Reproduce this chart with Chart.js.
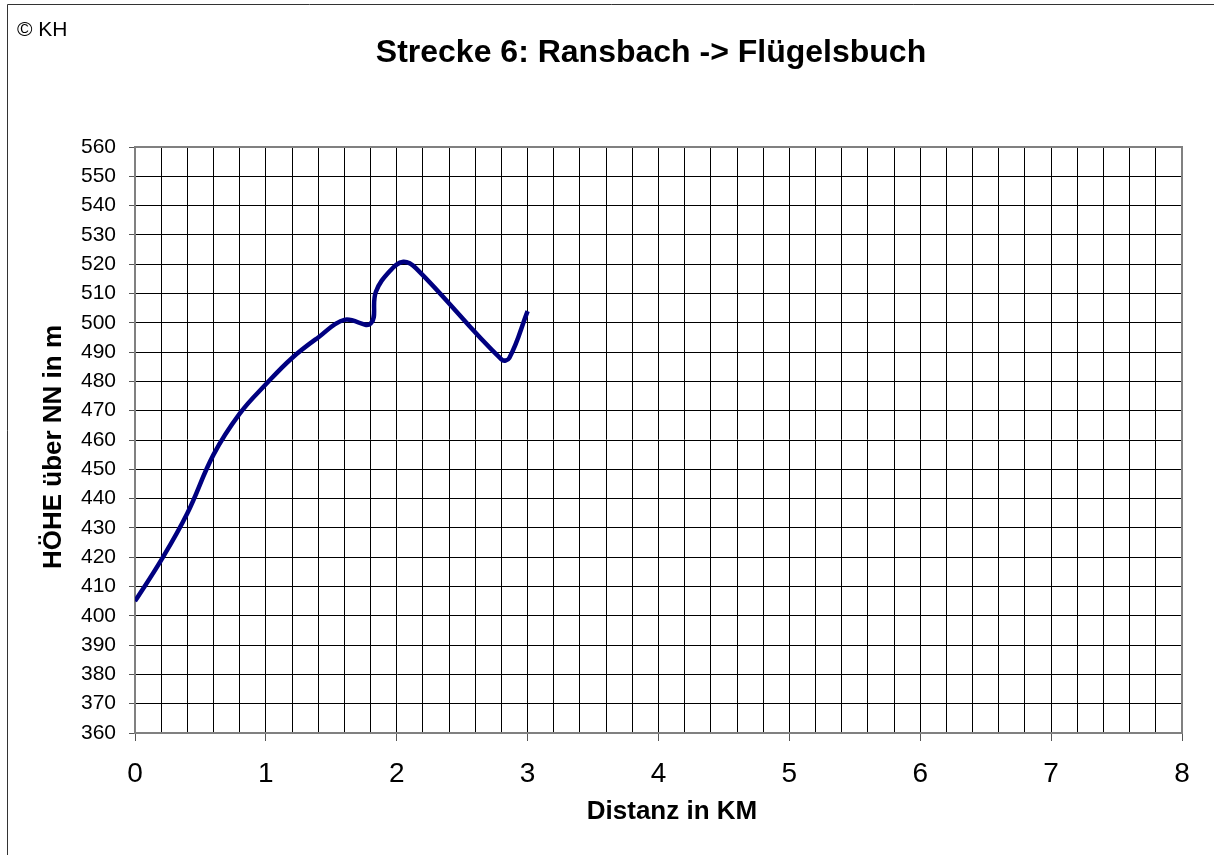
<!DOCTYPE html>
<html>
<head>
<meta charset="utf-8">
<script src="https://cdn.jsdelivr.net/npm/chart.js@4"></script>
<style>
  html, body { margin: 0; padding: 0; background: #fff; }
  #wrap { width: 1214px; height: 855px; position: relative; }
</style>
</head>
<body>
<div id="wrap"><canvas id="c" width="1214" height="855"></canvas></div>
<script>
// ---- data ----
const distanceKm = [0, 0.2, 0.4, 0.6, 0.8, 1.0, 1.2, 1.4, 1.6, 1.8, 1.84, 1.95, 2.05, 2.15, 2.8, 2.86, 3.0];
const heightM    = [405, 419, 435, 455, 469, 479, 488, 495, 501, 499.7, 510.5, 517.8, 520.8, 518.5, 487.5, 488, 504];
const chartTitle = 'Strecke 6: Ransbach -> Flügelsbuch';
const xAxisTitle = 'Distanz in KM';
const yAxisTitle = 'HÖHE über NN in m';
const copyrightText = '© KH';

const points = distanceKm.map((x, i) => ({ x: x, y: heightM[i] }));
const FONT = '"Liberation Sans", Arial, sans-serif';
const isInt = v => Math.abs(v - Math.round(v)) < 1e-6;

const decor = {
  id: 'decor',
  beforeDraw(chart) {
    const ctx = chart.ctx;
    ctx.save();
    ctx.fillStyle = '#fff';
    ctx.fillRect(0, 0, chart.width, chart.height);
    ctx.strokeStyle = '#333';
    ctx.lineWidth = 1;
    ctx.beginPath();
    ctx.moveTo(7.5, 860); ctx.lineTo(7.5, 4.5); ctx.lineTo(1220, 4.5);
    ctx.stroke();
    ctx.restore();
  },
  afterDraw(chart) {
    const ctx = chart.ctx;
    const a = chart.chartArea;
    ctx.save();
    // plot border top & right
    ctx.strokeStyle = '#808080';
    ctx.lineWidth = 2;
    ctx.beginPath();
    ctx.moveTo(a.left, a.top); ctx.lineTo(a.right, a.top); ctx.lineTo(a.right, a.bottom);
    ctx.stroke();
    ctx.fillStyle = '#000';
    ctx.textAlign = 'left';
    ctx.textBaseline = 'middle';
    ctx.font = '21px ' + FONT;
    ctx.fillText(copyrightText, 17, 30);
    ctx.textAlign = 'center';
    ctx.font = 'bold 32px ' + FONT;
    ctx.fillText(chartTitle, 651, 53);
    ctx.font = 'bold 26px ' + FONT;
    ctx.fillText(xAxisTitle, 672, 812);
    ctx.translate(54, 447);
    ctx.rotate(-Math.PI / 2);
    ctx.fillText(yAxisTitle, 0, 0);
    ctx.restore();
  }
};

new Chart(document.getElementById('c'), {
  type: 'scatter',
  data: {
    datasets: [{
      data: points,
      showLine: true,
      borderColor: '#000080',
      backgroundColor: '#000080',
      borderWidth: 4.5,
      pointRadius: 0,
      tension: 0.4,
      fill: false
    }]
  },
  options: {
    responsive: false,
    animation: false,
    devicePixelRatio: 1,
    layout: { padding: { left: 0, top: 147, right: 32, bottom: 0 } },
    plugins: { legend: { display: false }, title: { display: false }, tooltip: { enabled: false } },
    scales: {
      x: {
        type: 'linear',
        min: 0, max: 8,
        afterFit(s) { s.height = 122; },
        border: { color: '#808080', width: 2 },
        grid: {
          color: '#000',
          lineWidth: 1,
          tickLength: 8,
          tickColor: ctx => isInt(ctx.tick.value) ? '#555' : 'rgba(0,0,0,0)'
        },
        ticks: {
          stepSize: 0.2,
          autoSkip: false,
          maxRotation: 0,
          padding: 16,
          color: '#000',
          font: { family: FONT, size: 28 },
          callback: v => isInt(v) ? String(Math.round(v)) : ''
        }
      },
      y: {
        min: 360, max: 560,
        afterFit(s) { s.width = 135; },
        border: { color: '#808080', width: 2 },
        grid: { color: '#000', lineWidth: 1, tickLength: 6, tickColor: '#555' },
        ticks: {
          stepSize: 10,
          autoSkip: false,
          padding: 13,
          color: '#000',
          font: { family: FONT, size: 21 }
        }
      }
    }
  },
  plugins: [decor]
});
</script>
</body>
</html>
